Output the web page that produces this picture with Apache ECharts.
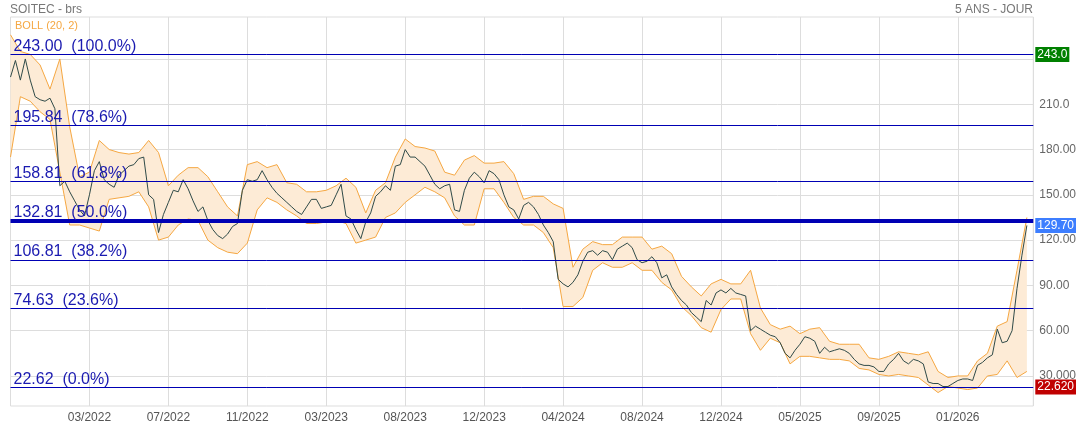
<!DOCTYPE html>
<html><head><meta charset="utf-8">
<script src="https://cdn.jsdelivr.net/npm/echarts@6/dist/echarts.min.js"></script>
<style>html,body{margin:0;padding:0;background:#fff}#c{width:1079px;height:427px}</style>
</head><body><div id="c"></div>
<script>
// x tick labels, one every 16 trading-day steps
const xTickLabels = ['', '03/2022', '07/2022', '11/2022', '03/2023', '08/2023', '12/2023', '04/2024', '08/2024', '12/2024', '05/2025', '09/2025', '01/2026'];
const X_TICK_STEP = 16;
const X_MAX = 207.3;

// close price, one value per step
const price = [
228,239,226,240,226,215,213,212,214,207,
156,159,152,146,140,136,150,166,172,160,
157,155,163,166,169,170,174,175,150,147,
125,137,145,153,152,160,154,146,139,142,
133,127,123,121,124,129,131,153,160,159,
160,166,160,155,151,148,145,142,139,137,
142,147,147,141,142,143,150,157,136,134,
127,121,132,138,149,152,156,153,169,170,
180,175,175,172,169,163,157,154,156,157,
140,139,153,161,165,162,158,166,164,160,
150,142,140,134,143,145,142,137,130,125,
119,94,91,89,92,97,106,112,113,110,
113,112,107,114,116,118,115,107,105,106,
109,105,95,97,89,84,80,77,72,69,
66,80,77,85,87,85,88,85,84,83,
60,63,61,59,57,56,52,45,42,47,
51,56,55,53,45,49,46,47,48,47,
45,41,38,37,37,36,33,33,38,41,
45,40,38,41,40,38,26,25,25,23,
23,25,27,28,28,27,37,39,42,44,
61,52,53,60,88,110,129.7
];

// Bollinger (20, 2) bands, one value every BAND_STEP steps
const BAND_STEP = 2;
const bandUpper = [
256,245,243,236,220,240,195,162,165,186,
180,178,177,178,186,178,156,163,168,168,
162,152,142,136,170,172,168,170,158,157,
152,152,153,156,161,155,138,153,158,175,
187,182,181,179,165,163,173,176,171,171,
172,164,147,149,149,144,141,102,114,119,
117,117,122,122,122,114,116,111,96,89,
83,91,94,91,91,100,75,64,61,63,
58,61,62,53,51,51,51,42,41,43,
46,45,44,46,33,29,30,30,40,45,
63,66,100,135
];
const bandLower = [
175,215,212,205,200,165,130,130,128,126,
147,148,149,152,142,120,122,130,134,133,
120,115,112,111,118,140,148,145,140,136,
131,131,132,133,131,118,120,122,135,138,
145,150,155,152,148,136,130,130,154,154,
145,135,130,130,125,115,76,76,82,100,
105,102,102,105,100,100,92,87,76,70,
62,59,74,81,81,58,47,55,52,38,
43,43,42,41,41,40,35,34,31,30,
31,30,29,24,19,23,22,21,22,30,
31,40,29,33
];

// Fibonacci retracement levels
const fibLevels = [243.00, 195.84, 158.81, 132.81, 106.81, 74.63, 22.62];
const fibPct = ['100.0%', '78.6%', '61.8%', '50.0%', '38.2%', '23.6%', '0.0%'];

// y axis ticks
const yTickValues = [30, 60, 90, 120, 150, 180, 210, 240];
const yTickLabels = ['30.000', '60.00', '90.00', '120.00', '150.00', '180.00', '210.0', ''];

const lastPrice = 129.70;
const highLevel = 243.0;
const lowLevel = 22.62;

const FONT = 'Arial, "Liberation Sans", sans-serif';
const BAND_LINE = '#f5a742';
const BAND_FILL = '#fdebd6';
const priceData = price.map((v, i) => [i, v]);
const upperData = bandUpper.map((v, k) => [k * BAND_STEP, v]);
const lowerData = bandLower.map((v, k) => [k * BAND_STEP, v]);

const chart = echarts.init(document.getElementById('c'), null, {renderer: 'canvas'});
chart.setOption({
  animation: false,
  backgroundColor: '#fff',
  textStyle: {fontFamily: FONT},
  title: [
    {text: 'SOITEC - brs', left: 10, top: 4, padding: 0, textStyle: {fontSize: 12, color: '#777', fontWeight: 'normal', fontFamily: FONT}},
    {text: '5 ANS - JOUR', right: 46, top: 4, padding: 0, textStyle: {fontSize: 12, color: '#777', fontWeight: 'normal', fontFamily: FONT}},
    {text: 'BOLL (20, 2)', left: 15, top: 20, padding: 0, textStyle: {fontSize: 11, color: BAND_LINE, fontWeight: 'normal', fontFamily: FONT}}
  ],
  grid: {left: 10.5, right: 45, top: 17, bottom: 21, show: true, borderColor: '#dddddd', borderWidth: 1},
  xAxis: {
    type: 'value', min: 0, max: X_MAX, interval: X_TICK_STEP,
    axisLine: {show: false}, axisTick: {show: false},
    splitLine: {show: true, lineStyle: {color: '#dddddd', width: 1}},
    axisLabel: {
      color: '#555', fontSize: 12, margin: 6, fontFamily: FONT,
      formatter: v => {
        const k = Math.round(v / X_TICK_STEP);
        return Math.abs(v - k * X_TICK_STEP) < 1e-6 && xTickLabels[k] ? xTickLabels[k] : '';
      }
    }
  },
  yAxis: {
    type: 'value', position: 'right', min: 10.1, max: 267.8, scale: true,
    axisLine: {show: false},
    axisTick: {show: false, customValues: yTickValues},
    splitLine: {show: true, lineStyle: {color: '#dddddd', width: 1}},
    axisLabel: {
      color: '#666', fontSize: 12, margin: 6, fontFamily: FONT,
      customValues: yTickValues,
      formatter: v => { const k = yTickValues.indexOf(v); return k >= 0 ? yTickLabels[k] : ''; }
    }
  },
  series: [
    {
      name: 'bandFill', type: 'custom', data: [[0, 0]], z: 1, silent: true,
      encode: {x: 0, y: 1},
      renderItem: (params, api) => {
        if (params.dataIndex !== 0) return null;
        const pts = [];
        for (let k = 0; k < bandUpper.length; k++) pts.push(api.coord([k * BAND_STEP, bandUpper[k]]));
        for (let k = bandLower.length - 1; k >= 0; k--) pts.push(api.coord([k * BAND_STEP, bandLower[k]]));
        return {type: 'polygon', shape: {points: pts}, style: {fill: BAND_FILL}};
      }
    },
    {
      name: 'upper', type: 'line', data: upperData, symbol: 'none',
      lineStyle: {color: BAND_LINE, width: 1}, z: 2
    },
    {
      name: 'lower', type: 'line', data: lowerData, symbol: 'none',
      lineStyle: {color: BAND_LINE, width: 1}, z: 2
    },
    {
      name: 'price', type: 'line', data: priceData, symbol: 'none',
      lineStyle: {color: '#2f4a48', width: 1}, z: 3
    },
    {
      name: 'fib', type: 'line', data: [], z: 4,
      markLine: {
        silent: true, symbol: ['none', 'none'], animation: false,
        lineStyle: {color: '#0000b4', type: 'solid', width: 1},
        label: {show: true, position: 'insideStartTop', distance: [3, 0], color: '#1a1ab0', fontSize: 16, fontFamily: FONT},
        data: fibLevels.map((v, k) => ({
          yAxis: v,
          lineStyle: {width: k === 3 ? 4 : 1},
          label: {formatter: v.toFixed(2) + '  (' + fibPct[k] + ')'}
        }))
      }
    },
    {
      name: 'badges', type: 'line', data: [], z: 5,
      markLine: {
        silent: true, symbol: ['none', 'none'], animation: false,
        lineStyle: {color: 'rgba(0,0,0,0)', width: 0},
        label: {show: true, position: 'end', distance: 2, color: '#fff', fontSize: 12, fontFamily: FONT, padding: [2, 2, 1, 2]},
        data: [
          {yAxis: highLevel, label: {formatter: highLevel.toFixed(1), backgroundColor: '#008000'}},
          {yAxis: lastPrice, label: {formatter: lastPrice.toFixed(2), backgroundColor: '#3d7eff'}},
          {yAxis: lowLevel, label: {formatter: lowLevel.toFixed(3), backgroundColor: '#c00000'}}
        ]
      }
    }
  ]
});
</script></body></html>
